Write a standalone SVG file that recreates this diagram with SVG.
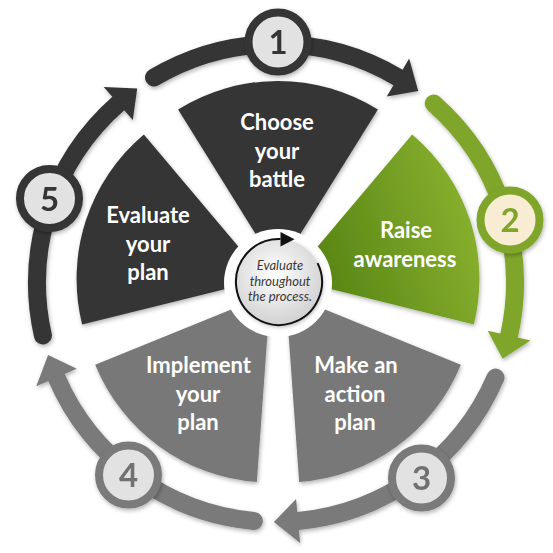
<svg xmlns="http://www.w3.org/2000/svg" xmlns:xlink="http://www.w3.org/1999/xlink" width="553" height="553" viewBox="0 0 553 553">
  <defs>
    <style>
      .lbl { font-family: "Lato", "Open Sans", "Liberation Sans", sans-serif; font-weight: 700; font-size: 22px; fill: #ffffff; text-anchor: middle; }
      .num { font-family: "Lato", "Open Sans", "Liberation Sans", sans-serif; font-weight: 700; font-size: 33px; text-anchor: middle; }
      .mid { font-family: "Lato", "Open Sans", "Liberation Sans", sans-serif; font-style: italic; font-size: 13px; fill: #3a3a3a; text-anchor: middle; }
      .ring { fill: none; stroke-width: 18; stroke-linecap: round; }
      .dk { stroke: #353535; }
      .gr { stroke: #7a7a7a; }
      .gn { stroke: #7fa629; }
      .dkf { fill: #353535; }
      .grf { fill: #7a7a7a; }
      .gnf { fill: #7fa629; }
      .cir { stroke-width: 8; }
    </style>
    <filter id="sh" x="-20%" y="-20%" width="140%" height="140%">
      <feDropShadow dx="1" dy="2" stdDeviation="2" flood-color="#000" flood-opacity="0.3"/>
    </filter>
    <linearGradient id="green" x1="0.5" y1="1" x2="0.5" y2="0">
      <stop offset="0" stop-color="#4f7e10"/>
      <stop offset="1" stop-color="#86ae2d"/>
    </linearGradient>
    <radialGradient id="mid" cx="0.45" cy="0.4" r="0.6">
      <stop offset="0" stop-color="#ffffff"/>
      <stop offset="1" stop-color="#d2d2d2"/>
    </radialGradient>
    <path id="wedge" d="M 0 -13 L -99.9 -173.5 A 189 189 0 0 1 99.9 -173.5 Z"/>
  </defs>

  <rect width="553" height="553" fill="#ffffff"/>

  <!-- Wedges -->
  <g id="wedge-choose">
    <g filter="url(#sh)"><use xlink:href="#wedge" transform="translate(278 283)" fill="#353535"/></g>
    <text class="lbl" x="277" y="130">Choose</text>
    <text class="lbl" x="277" y="158.5">your</text>
    <text class="lbl" x="277" y="187">battle</text>
  </g>
  <g id="wedge-raise">
    <g filter="url(#sh)"><use xlink:href="#wedge" transform="translate(278 283) rotate(72)" fill="url(#green)"/></g>
    <text class="lbl" x="406" y="238">Raise</text>
    <text class="lbl" x="405" y="267">awareness</text>
  </g>
  <g id="wedge-make">
    <g filter="url(#sh)"><use xlink:href="#wedge" transform="translate(278 283) rotate(144)" fill="#787878"/></g>
    <text class="lbl" x="356" y="373">Make an</text>
    <text class="lbl" x="355" y="401.5">action</text>
    <text class="lbl" x="355" y="430">plan</text>
  </g>
  <g id="wedge-implement">
    <g filter="url(#sh)"><use xlink:href="#wedge" transform="translate(278 283) rotate(216)" fill="#787878"/></g>
    <text class="lbl" x="198.5" y="373">Implement</text>
    <text class="lbl" x="198" y="401.5">your</text>
    <text class="lbl" x="198" y="430">plan</text>
  </g>
  <g id="wedge-evaluate">
    <g filter="url(#sh)"><use xlink:href="#wedge" transform="translate(278 283) rotate(288)" fill="#353535"/></g>
    <text class="lbl" x="148" y="223">Evaluate</text>
    <text class="lbl" x="148" y="251.5">your</text>
    <text class="lbl" x="148" y="280">plan</text>
  </g>

  <!-- Connectors: outer ring arrows -->
  <g id="connectors" filter="url(#sh)">
    <path class="ring dk" d="M 154.0 77.5 A 239 239 0 0 1 398.0 77.5"/>
    <polygon class="dkf" points="386.8,96.4 409.2,58.6 418.2,90.9"/>
    <path class="ring gn" d="M 433.7 103.4 A 239 239 0 0 1 509.1 335.5"/>
    <polygon class="gnf" points="487.7,330.7 530.6,340.4 502.6,358.8"/>
    <path class="ring gr" d="M 495.5 377.5 A 239 239 0 0 1 298.1 521.0"/>
    <polygon class="grf" points="296.1,499.1 300.1,542.9 273.9,522.0"/>
    <path class="ring gr" d="M 253.9 521.0 A 239 239 0 0 1 56.5 377.5"/>
    <polygon class="grf" points="76.7,368.8 36.3,386.2 48.1,354.9"/>
    <path class="ring dk" d="M 42.9 335.5 A 239 239 0 0 1 118.3 103.4"/>
    <polygon class="dkf" points="132.8,120.0 103.7,86.9 137.2,88.4"/>
  </g>

  <!-- Numbered circles -->
  <g id="step1" filter="url(#sh)">
    <circle class="cir" cx="278" cy="42" r="29.5" fill="#e2e2e2" stroke="#353535"/>
    <text class="num" x="278" y="54" fill="#353535">1</text>
  </g>
  <g id="step2" filter="url(#sh)">
    <circle class="cir" cx="510" cy="220" r="29.5" fill="#f8ecd2" stroke="#7fa629"/>
    <text class="num" x="510" y="232" fill="#7fa629">2</text>
  </g>
  <g id="step3" filter="url(#sh)">
    <circle class="cir" cx="421.5" cy="478" r="29.5" fill="#e2e2e2" stroke="#7a7a7a"/>
    <text class="num" x="421.5" y="490" fill="#717171">3</text>
  </g>
  <g id="step4" filter="url(#sh)">
    <circle class="cir" cx="128.5" cy="475" r="29.5" fill="#e2e2e2" stroke="#7a7a7a"/>
    <text class="num" x="128.5" y="487" fill="#717171">4</text>
  </g>
  <g id="step5" filter="url(#sh)">
    <circle class="cir" cx="49.5" cy="198.5" r="29.5" fill="#e2e2e2" stroke="#353535"/>
    <text class="num" x="49.5" y="210.5" fill="#353535">5</text>
  </g>

  <!-- Center -->
  <g id="center">
    <circle cx="278" cy="283" r="54" fill="#ffffff"/>
    <circle cx="279" cy="282" r="43" fill="url(#mid)" filter="url(#sh)"/>
    <path d="M 317.6 263.1 A 43 43 0 1 1 280.5 239.0" fill="none" stroke="#111" stroke-width="2"/>
    <polygon points="280.5,232 294.5,239.3 280.5,246.5" fill="#111"/>
    <text class="mid" x="280" y="270">Evaluate</text>
    <text class="mid" x="280" y="285.5">throughout</text>
    <text class="mid" x="280" y="301">the process.</text>
  </g>
</svg>
